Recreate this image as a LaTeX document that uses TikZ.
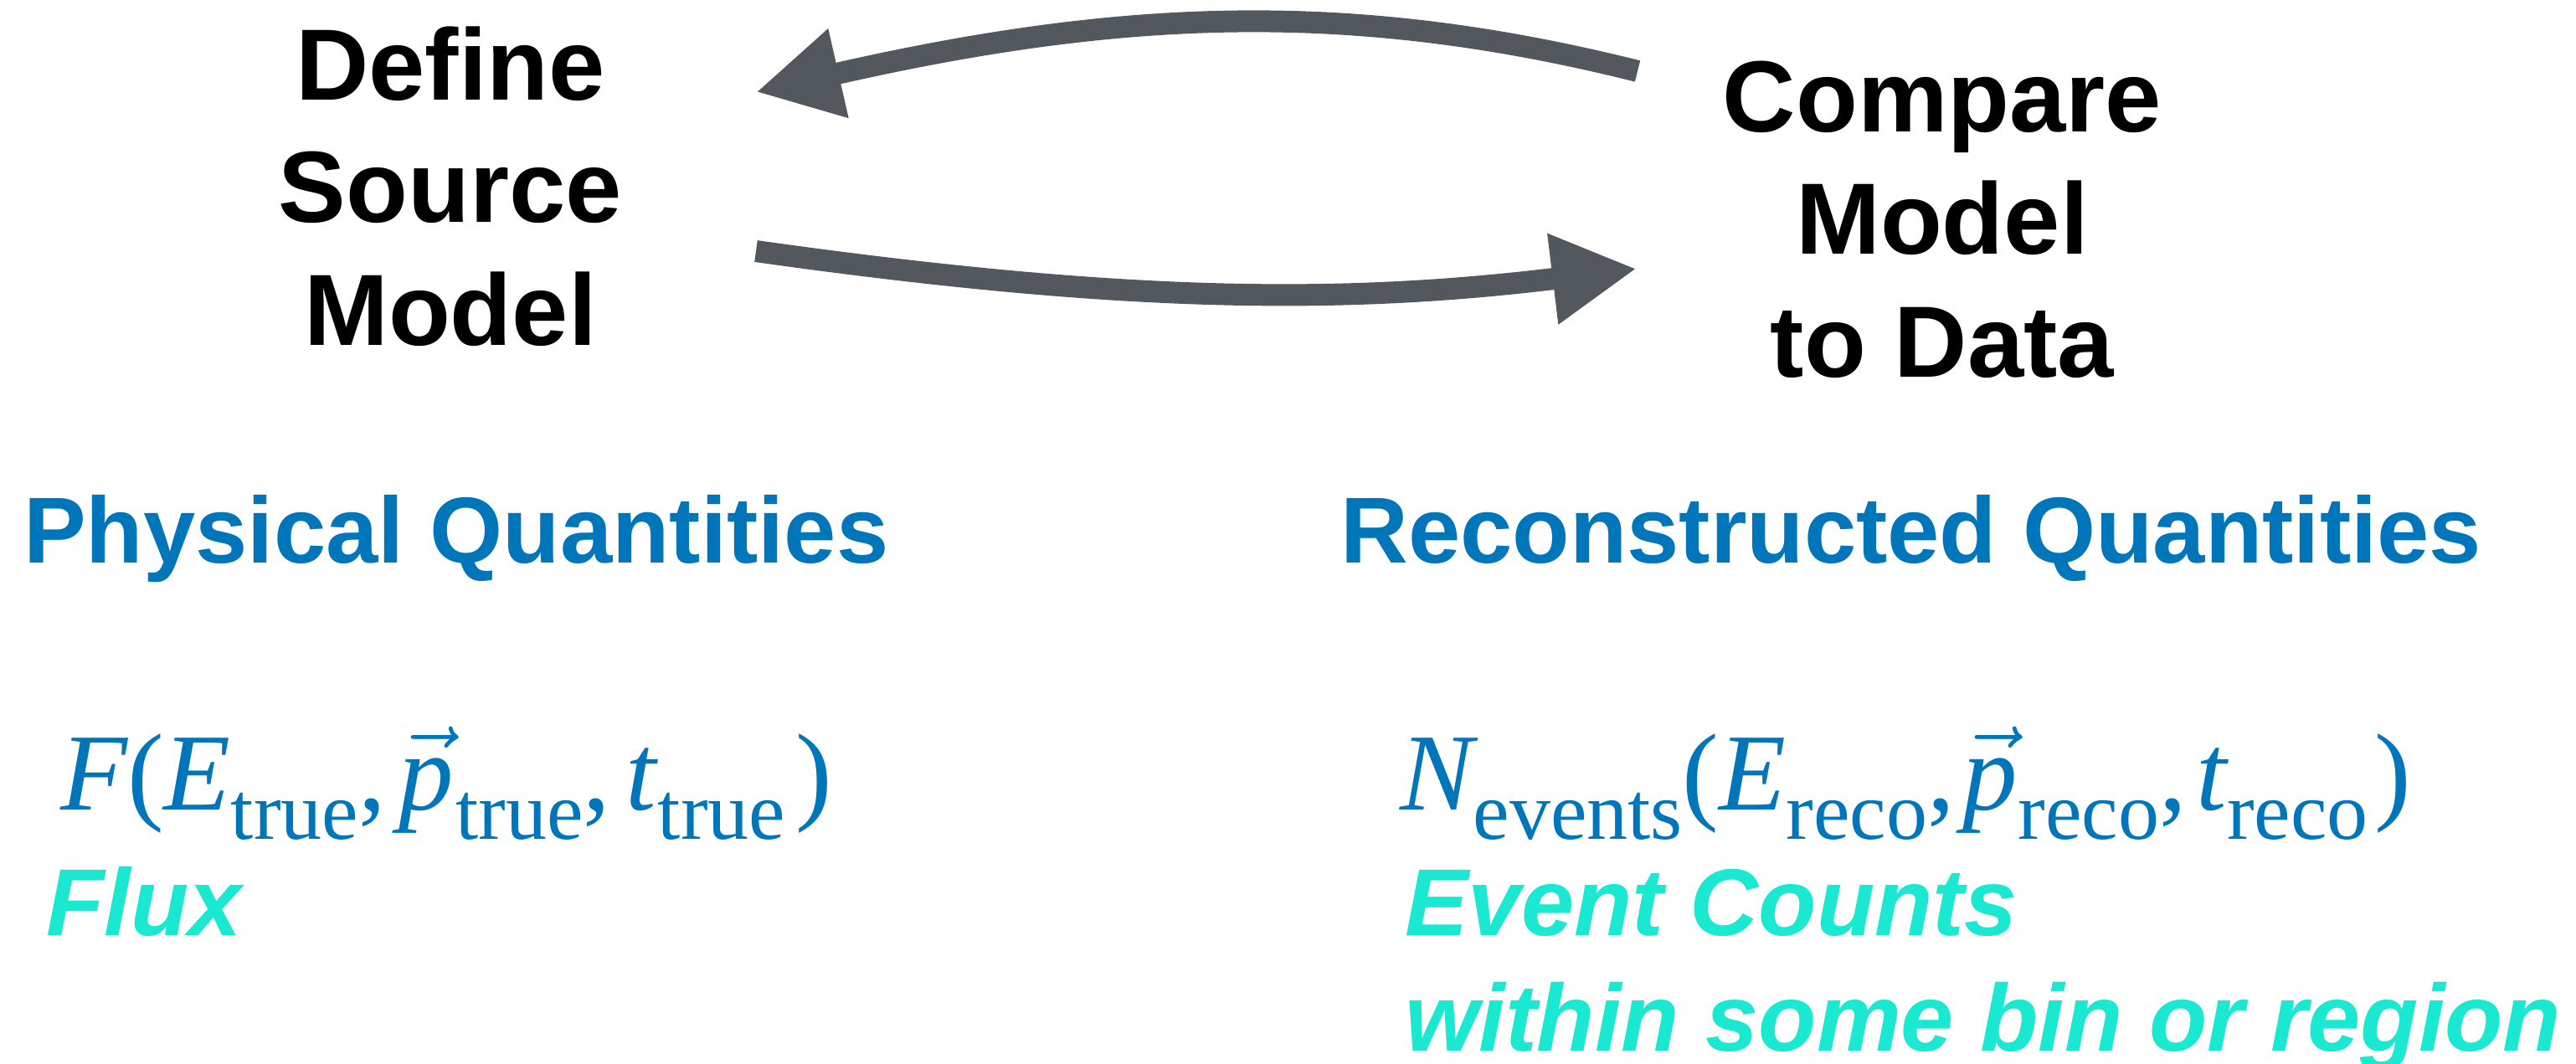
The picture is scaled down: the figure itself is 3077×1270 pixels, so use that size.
\documentclass[tikz,border=0pt]{standalone}
\usepackage{fix-cm}
\usepackage{fontspec}
\setmainfont{Liberation Sans}
\newfontfamily\tms{Liberation Serif}
\usetikzlibrary{arrows.meta}
\definecolor{arrowgray}{RGB}{83,88,95}
\definecolor{qblue}{RGB}{0,118,186}
\definecolor{qcyan}{RGB}{26,232,208}
\newcommand\sbx[1]{\raisebox{-35pt}{\fontsize{98}{98}\selectfont #1}}
\begin{document}
\begin{tikzpicture}[x=1pt,y=-1pt,
  title/.style={font=\fontsize{121}{146.5}\selectfont\bfseries, align=center, inner sep=0pt, anchor=base},
  heading/.style={font=\fontsize{112}{132}\selectfont\bfseries, text=qblue, inner sep=0pt, anchor=base west},
  formula/.style={font=\fontsize{131}{131}\selectfont\tms, text=qblue, inner sep=0pt, anchor=base west},
  note/.style={font=\fontsize{113.5}{138}\selectfont\bfseries\itshape, text=qcyan, inner sep=0pt, anchor=base west, align=left},
  flow/.style={draw=arrowgray, line width=26pt, -{Triangle[length=101pt,width=102pt]}}
]
\fill[white] (0,0) rectangle (3077,1270);
\useasboundingbox (0,0) rectangle (3077,1270);

% base anchor = baseline of the last line
\node[title] (define) at (538,412) {Define\\Source\\Model};
\node[title] (compare) at (2320,450) {Compare\\Model\\to Data};

\node[heading] (phys) at (28,672) {Physical Quantities};
\node[heading] (reco) at (1601,672) {Reconstructed Quantities};

\node[formula] (flux) at (72,967) {\itshape F\upshape(\itshape E\upshape\sbx{true},\kern16pt $\vec{\hbox{\itshape p}}$\kern2pt\sbx{true},\kern18pt \itshape t\upshape\kern2pt\sbx{true}\kern12pt)};
\node[formula] (counts) at (1672,967) {\itshape N\upshape\sbx{events}(\itshape E\upshape\sbx{reco},\kern10pt $\vec{\hbox{\itshape p}}$\sbx{reco},\kern12pt \itshape t\upshape\sbx{reco}\kern8pt)};

\node[note] (fluxlbl) at (55,1117) {Flux};
\node[note] (countlbl) at (1678,1255) {Event Counts\\within some bin or region};

\coordinate (upTail) at (1956,85);
\coordinate (upTip) at (903,110);
\draw[flow] (upTail) .. controls (1616,0) and (1342,10) .. (upTip);
\coordinate (loTail) at (903,300);
\coordinate (loTip) at (1955,321);
\draw[flow] (loTail) .. controls (1349,363) and (1609,363) .. (loTip);
\end{tikzpicture}
\end{document}
